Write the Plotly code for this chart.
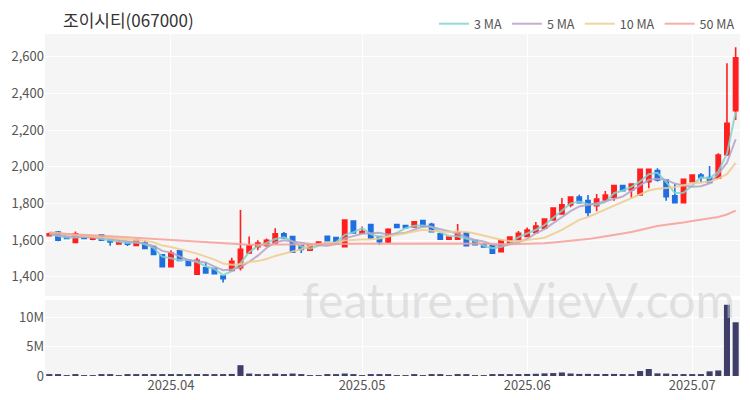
import plotly.graph_objects as go
import pandas as pd

# ---------------- data ----------------
dates = [
    "2025-03-12", "2025-03-13", "2025-03-14", "2025-03-17", "2025-03-18", "2025-03-19", "2025-03-20",
    "2025-03-21", "2025-03-24", "2025-03-25", "2025-03-26", "2025-03-27", "2025-03-28", "2025-03-31",
    "2025-04-01", "2025-04-02", "2025-04-03", "2025-04-04", "2025-04-07", "2025-04-08", "2025-04-09",
    "2025-04-10", "2025-04-11", "2025-04-14", "2025-04-15", "2025-04-16", "2025-04-17", "2025-04-18",
    "2025-04-21", "2025-04-22", "2025-04-23", "2025-04-24", "2025-04-25", "2025-04-28", "2025-04-29",
    "2025-04-30", "2025-05-02", "2025-05-07", "2025-05-08", "2025-05-09", "2025-05-12", "2025-05-13",
    "2025-05-14", "2025-05-15", "2025-05-16", "2025-05-19", "2025-05-20", "2025-05-21", "2025-05-22",
    "2025-05-23", "2025-05-26", "2025-05-27", "2025-05-28", "2025-05-29", "2025-05-30", "2025-06-02",
    "2025-06-04", "2025-06-05", "2025-06-09", "2025-06-10", "2025-06-11", "2025-06-12", "2025-06-13",
    "2025-06-16", "2025-06-17", "2025-06-18", "2025-06-19", "2025-06-20", "2025-06-23", "2025-06-24",
    "2025-06-25", "2025-06-26", "2025-06-27", "2025-06-30", "2025-07-01", "2025-07-02", "2025-07-03",
    "2025-07-04", "2025-07-07", "2025-07-08",
]

open_ = [1625, 1645, 1615, 1588, 1615, 1606, 1628, 1600, 1580, 1588,
         1572, 1585, 1565, 1520, 1455, 1542, 1490, 1415, 1450, 1445,
         1405, 1435, 1450, 1530, 1565, 1572, 1585, 1635, 1620, 1570,
         1545, 1578, 1622, 1615, 1565, 1705, 1638, 1685, 1620, 1590,
         1685, 1680, 1673, 1708, 1687, 1635, 1605, 1605, 1640, 1598,
         1580, 1569, 1538, 1584, 1602, 1620, 1642, 1665, 1711, 1744,
         1793, 1835, 1816, 1788, 1820, 1835, 1898, 1875, 1847, 1920,
         1980, 1929, 1842, 1805, 1920, 1956, 1942, 1938, 2066, 2307]
high = [1642, 1650, 1620, 1648, 1620, 1618, 1632, 1602, 1598, 1592,
        1606, 1597, 1570, 1522, 1545, 1546, 1495, 1505, 1480, 1450,
        1410, 1505, 1765, 1620, 1600, 1610, 1665, 1645, 1625, 1572,
        1580, 1593, 1625, 1618, 1715, 1708, 1675, 1688, 1622, 1665,
        1690, 1684, 1703, 1712, 1695, 1637, 1622, 1689, 1642, 1600,
        1583, 1571, 1602, 1622, 1650, 1670, 1700, 1720, 1778, 1830,
        1840, 1848, 1847, 1852, 1868, 1900, 1902, 1910, 1990, 1990,
        1993, 1932, 1907, 1935, 1960, 1967, 2005, 2075, 2566, 2653]
low = [1620, 1595, 1605, 1583, 1605, 1600, 1598, 1570, 1578, 1568,
       1568, 1552, 1518, 1453, 1453, 1488, 1458, 1412, 1420, 1415,
       1370, 1430, 1435, 1525, 1545, 1565, 1580, 1610, 1532, 1530,
       1543, 1575, 1595, 1578, 1563, 1638, 1636, 1610, 1575, 1585,
       1668, 1665, 1670, 1672, 1645, 1603, 1603, 1603, 1568, 1573,
       1560, 1525, 1536, 1582, 1600, 1618, 1640, 1662, 1708, 1740,
       1780, 1803, 1729, 1758, 1812, 1815, 1868, 1831, 1843, 1884,
       1920, 1816, 1803, 1803, 1918, 1914, 1912, 1936, 2060, 2256]
close = [1635, 1600, 1610, 1635, 1610, 1612, 1600, 1590, 1588, 1578,
         1600, 1555, 1522, 1455, 1530, 1490, 1462, 1490, 1422, 1418,
         1390, 1485, 1550, 1570, 1585, 1600, 1635, 1612, 1535, 1550,
         1575, 1590, 1598, 1580, 1710, 1640, 1648, 1612, 1592, 1660,
         1670, 1668, 1700, 1675, 1647, 1605, 1617, 1642, 1570, 1576,
         1563, 1529, 1598, 1617, 1638, 1656, 1678, 1715, 1775, 1793,
         1835, 1805, 1751, 1825, 1847, 1898, 1870, 1906, 1987, 1987,
         1929, 1838, 1805, 1933, 1956, 1942, 1915, 2065, 2238, 2595]
volume = [180e3, 250e3, 150e3, 220e3, 130e3, 140e3, 300e3, 200e3, 150e3, 320e3,
          220e3, 180e3, 250e3, 330e3, 280e3, 220e3, 200e3, 260e3, 200e3, 180e3,
          280e3, 350e3, 1850e3, 420e3, 250e3, 300e3, 400e3, 250e3, 420e3, 200e3,
          150e3, 130e3, 160e3, 170e3, 420e3, 260e3, 150e3, 200e3, 170e3, 200e3,
          120e3, 110e3, 160e3, 150e3, 180e3, 190e3, 150e3, 280e3, 200e3, 130e3,
          120e3, 200e3, 250e3, 300e3, 320e3, 350e3, 380e3, 450e3, 500e3, 600e3,
          430e3, 350e3, 360e3, 330e3, 340e3, 350e3, 300e3, 320e3, 850e3, 1200e3,
          450e3, 420e3, 300e3, 300e3, 280e3, 300e3, 800e3, 950e3, 12200e3, 9200e3]

# moving-average values at the start of the window (read off the picture,
# they depend on closes earlier than the visible range)
ma3_head = [1632, 1622]
ma5_head = [1635, 1628, 1622, 1620]
ma10_head = [1645, 1638, 1633, 1628, 1624, 1620, 1616, 1612, 1609]
ma50_head = [1640, 1638, 1636, 1634, 1631, 1628, 1625, 1622, 1619, 1615,
             1612, 1609, 1606, 1603, 1600, 1597, 1595, 1592, 1589, 1586,
             1582, 1579, 1577, 1576, 1576, 1576, 1577, 1577, 1577, 1578,
             1578, 1578, 1579, 1579, 1580, 1581, 1581, 1582, 1582, 1583,
             1583, 1584, 1584, 1585, 1585, 1584, 1584, 1583, 1582]

tick_dates = ["2025-04-01", "2025-05-02", "2025-06-02", "2025-07-01"]
tick_text = ["2025.04", "2025.05", "2025.06", "2025.07"]

title = "조이시티(067000)"
watermark = "feature.enVievV.com"


def moving_average(n, head):
    s = pd.Series(close, dtype=float).rolling(n).mean().tolist()
    return head + s[len(head):]


ma_series = [
    ("3 MA", moving_average(3, ma3_head), "#7fd6cc"),
    ("5 MA", moving_average(5, ma5_head), "#b5a3c8"),
    ("10 MA", moving_average(10, ma10_head), "#f0cc8e"),
    ("50 MA", moving_average(50, ma50_head), "#f7a098"),
]

UP = "#ff1f1f"
DOWN = "#1f6fe0"
FONT = "Noto Sans CJK KR"

fig = go.Figure()
fig.add_trace(go.Candlestick(
    x=dates, open=open_, high=high, low=low, close=close,
    increasing=dict(line=dict(color=UP, width=1.6), fillcolor=UP),
    decreasing=dict(line=dict(color=DOWN, width=1.6), fillcolor=DOWN),
    whiskerwidth=0, showlegend=False, hoverinfo="skip",
    xaxis="x", yaxis="y",
))
for name, vals, col in ma_series:
    fig.add_trace(go.Scatter(
        x=dates, y=vals, mode="lines", name=name,
        line=dict(color=col, width=2), opacity=0.85,
        xaxis="x", yaxis="y",
    ))
fig.add_trace(go.Bar(
    x=dates, y=volume, marker=dict(color="#3e3e68", line=dict(width=0)),
    showlegend=False, xaxis="x2", yaxis="y2",
))

common_x = dict(
    type="category", range=[-0.5, len(dates) - 0.5],
    tickvals=tick_dates, ticktext=tick_text,
    showgrid=True, gridcolor="#ffffff", gridwidth=1,
    zeroline=False, showline=False, ticks="", automargin=False,
)

fig.update_layout(
    width=750, height=400,
    margin=dict(l=45, r=10, t=34, b=24, autoexpand=False),
    paper_bgcolor="#ffffff", plot_bgcolor="#f5f5f5",
    font=dict(family=FONT, size=13, color="#555555"),
    bargap=0.3,
    title=dict(text=title, x=0.026, xref="paper", xanchor="left",
               y=0.947, yref="container", yanchor="middle",
               font=dict(family=FONT, size=17, color="#333333")),
    legend=dict(orientation="h", x=1, xanchor="right", y=1.029, yanchor="middle",
                font=dict(family=FONT, size=12.5, color="#555555"),
                bgcolor="rgba(0,0,0,0)", itemwidth=30, tracegroupgap=0),
    xaxis=dict(**common_x, domain=[0, 1], anchor="y", showticklabels=False,
               rangeslider=dict(visible=False)),
    yaxis=dict(domain=[0.234, 1], range=[1296, 2725],
               tickvals=[1400, 1600, 1800, 2000, 2200, 2400, 2600],
               tickformat=",", showgrid=True, gridcolor="#ffffff",
               zeroline=False, ticks="", fixedrange=True, automargin=False),
    xaxis2=dict(**common_x, domain=[0, 1], anchor="y2", showticklabels=True,
                tickfont=dict(size=13, color="#555555")),
    yaxis2=dict(domain=[0, 0.222], range=[0, 13e6],
                tickvals=[0, 5e6, 10e6], ticktext=["0", "5M", "10M"],
                showgrid=True, gridcolor="#ffffff", zeroline=False, ticks="",
                automargin=False),
    annotations=[dict(text=watermark, xref="paper", yref="paper",
                      x=0.682, y=0.225, xanchor="center", yanchor="middle",
                      showarrow=False,
                      font=dict(family="Lato", size=48, color="rgba(205,205,205,0.55)"))],
)

fig.write_html(
    "out.html",
    config={"displayModeBar": False},
    post_script="document.body.style.margin='0';document.body.style.padding='0';",
)
